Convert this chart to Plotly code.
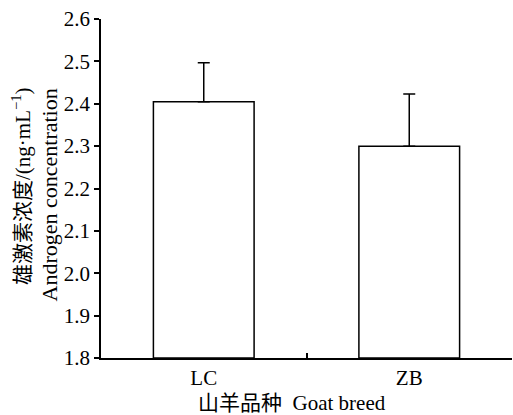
import plotly.graph_objects as go

categories = ["LC", "ZB"]
values = [2.405, 2.300]
errors = [0.092, 0.123]
y_ticks = [1.8, 1.9, 2.0, 2.1, 2.2, 2.3, 2.4, 2.5, 2.6]
y_title_cn = "雄激素浓度/(ng·mL<sup>−1</sup>)"
y_title_en = "Androgen concentration"
x_title = "山羊品种\u00a0\u00a0Goat breed"

FONT = "'Liberation Serif', 'Times New Roman', 'Noto Sans CJK SC', serif"

fig = go.Figure()
fig.add_trace(go.Bar(
    x=categories, y=[v - 1.8 for v in values], base=1.8,
    width=0.49,
    marker=dict(color="white", line=dict(color="black", width=1.5)),
    error_y=dict(type="data", array=errors, arrayminus=[0, 0], symmetric=False,
                 color="black", thickness=1.5, width=6),
    showlegend=False,
))

fig.update_layout(
    width=513, height=415,
    margin=dict(l=101, r=1, t=19, b=57, autoexpand=False),
    plot_bgcolor="white", paper_bgcolor="white",
    font=dict(family=FONT, size=21, color="black"),
    bargap=0.51,
    xaxis=dict(
        type="category", range=[-0.5, 1.5], automargin=False,
        showline=True, linecolor="black", linewidth=1.5,
        ticks="inside", tickson="boundaries", ticklen=5, tickwidth=1.5, tickcolor="black",
        showgrid=False, zeroline=False,
        tickfont=dict(family=FONT, size=21),
    ),
    yaxis=dict(
        range=[1.8, 2.6], tickvals=y_ticks, ticktext=[f"{t:.1f}" for t in y_ticks],
        automargin=False,
        showline=True, linecolor="black", linewidth=1.5,
        ticks="outside", ticklen=5, tickwidth=1.5, tickcolor="black",
        showgrid=False, zeroline=False,
        tickfont=dict(family=FONT, size=21),
    ),
)

fig.add_annotation(text=y_title_cn, xref="paper", yref="paper", x=0, y=1,
                   xanchor="center", yanchor="top", xshift=-80, yshift=-66,
                   textangle=-90, showarrow=False, font=dict(family=FONT, size=21))
fig.add_annotation(text=y_title_en, xref="paper", yref="paper", x=0, y=1,
                   xanchor="center", yanchor="top", xshift=-52, yshift=-68,
                   textangle=-90, showarrow=False, font=dict(family=FONT, size=22))
fig.add_annotation(text=x_title, xref="paper", yref="paper", x=0.465, y=0,
                   xanchor="center", yanchor="middle", yshift=-45,
                   showarrow=False, font=dict(family=FONT, size=21))

fig.write_html(
    "out.html",
    config={"displayModeBar": False},
    post_script="document.body.style.margin='0px';document.body.style.overflow='hidden';",
)
